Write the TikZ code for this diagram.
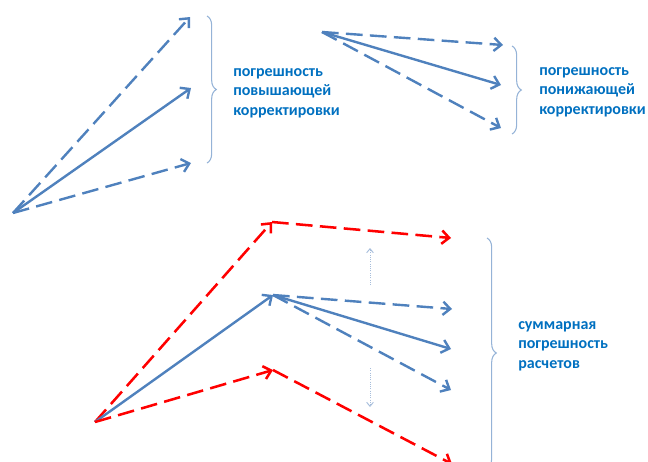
\documentclass[tikz,border=0pt]{standalone}
\usepackage{fontspec}
\setmainfont{Carlito}
\usetikzlibrary{arrows.meta,decorations.pathreplacing}
\definecolor{arrblue}{HTML}{4F81BD}
\definecolor{txtblue}{HTML}{0070C0}
\definecolor{brc}{HTML}{95B3D7}
\definecolor{dotc}{HTML}{A6BDDB}
\definecolor{arrred}{HTML}{FF0000}
\begin{document}
\begin{tikzpicture}[x=0.75pt,y=-0.75pt,
  barb/.style={-{Straight Barb[length=5.5pt,width=10pt]}},
  bsolid/.style={draw=arrblue, line width=1.8pt, barb},
  bdash/.style={draw=arrblue, line width=1.8pt, dash pattern=on 12.5pt off 5.5pt, barb},
  rdash/.style={draw=arrred, line width=1.9pt, dash pattern=on 12.5pt off 5.5pt, barb},
  dotarrow/.style={draw=dotc, line width=0.7pt, densely dotted, -{Straight Barb[length=3pt,width=5pt]}},
  bracestyle/.style={draw=brc, line width=0.8pt, decorate, decoration={brace, amplitude=7pt}},
  lbl/.style={text=txtblue, font=\bfseries\fontsize{12}{14.6}\selectfont, align=left, anchor=west, inner sep=0pt}]
\useasboundingbox (0,0) rectangle (648,461);

% top-left group
\coordinate (o1) at (13,213);
\coordinate (a1) at (190,17);
\coordinate (b1) at (191,88);
\coordinate (c1) at (191,163);
\draw[bdash] (o1) -- (a1);
\draw[bsolid] (o1) -- (b1);
\draw[bdash] (o1) -- (c1);
\coordinate (br1s) at (207,16);
\coordinate (br1e) at (207,163);
\draw[bracestyle] (br1s) -- (br1e);
\node[lbl] (t1) at (233,93) {погрешность\\повышающей\\корректировки};

% top-right group
\coordinate (o2) at (322,32);
\coordinate (a2) at (503,45);
\coordinate (b2) at (501,85);
\coordinate (c2) at (501,128);
\draw[bdash] (o2) -- (a2);
\draw[bsolid] (o2) -- (b2);
\draw[bdash] (o2) -- (c2);
\coordinate (br2s) at (512,46);
\coordinate (br2e) at (512,134);
\draw[bracestyle] (br2s) -- (br2e);
\node[lbl] (t2) at (539,92) {погрешность\\понижающей\\корректировки};

% bottom group
\coordinate (o3) at (95,422);
\coordinate (ru) at (272,222);
\coordinate (ruend) at (451,238);
\coordinate (m) at (273,295);
\coordinate (m1) at (452,309);
\coordinate (m2) at (451,349);
\coordinate (m3) at (451,390);
\coordinate (rd) at (273,370);
\coordinate (rdend) at (452,464);
\draw[rdash] (o3) -- (ru);
\draw[rdash] (ru) -- (ruend);
\draw[bsolid] (o3) -- (m);
\draw[bdash] (m) -- (m1);
\draw[bsolid] (m) -- (m2);
\draw[bdash] (m) -- (m3);
\draw[rdash] (o3) -- (rd);
\draw[rdash] (rd) -- (rdend);
\coordinate (d1s) at (370,285);
\coordinate (d1e) at (370,248);
\coordinate (d2s) at (370,368);
\coordinate (d2e) at (370,407);
\draw[dotarrow] (d1s) -- (d1e);
\draw[dotarrow] (d2s) -- (d2e);
\coordinate (br3s) at (487,238);
\coordinate (br3e) at (487,468);
\draw[bracestyle] (br3s) -- (br3e);
\node[lbl] (t3) at (518,346) {суммарная\\погрешность\\расчетов};
\end{tikzpicture}
\end{document}
